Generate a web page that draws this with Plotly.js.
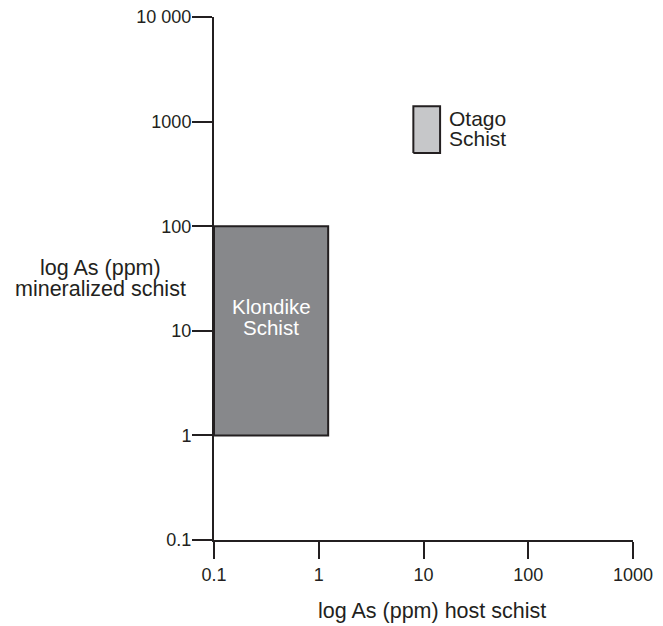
<!DOCTYPE html>
<html>
<head>
<meta charset="utf-8">
<script src="https://cdn.plot.ly/plotly-3.0.1.min.js"></script>
<style>html,body{margin:0;padding:0;background:#fff;}#chart{width:663px;height:626px;}</style>
</head>
<body>
<div id="chart"></div>
<script>
// Data
const boxNames = ["Klondike Schist", "Otago Schist"];
const hostMin = [0.1, 8];       // log As (ppm) host schist, lower bound
const hostMax = [1.23, 14.4];   // upper bound
const minMin = [1, 500];        // log As (ppm) mineralized schist, lower bound
const minMax = [100, 1400];     // upper bound
const boxFill = ["#87888b", "#c6c7c9"];
const xTickVals = [0.1, 1, 10, 100, 1000];
const xTickText = ["0.1", "1", "10", "100", "1000"];
const yTickVals = [0.1, 1, 10, 100, 1000, 10000];
const yTickText = ["0.1", "1", "10", "100", "1000", "10 000"];
const xTitle = "log As (ppm) host schist";
const yTitleLines = ["log As (ppm)", "mineralized schist"];
const klondikeLines = ["Klondike", "Schist"];
const otagoLines = ["Otago", "Schist"];

const ink = "#231f20";
const traces = boxNames.map((n, i) => ({
  type: "scatter", mode: "lines", name: n,
  x: [hostMin[i], hostMax[i], hostMax[i], hostMin[i], hostMin[i]],
  y: [minMin[i], minMin[i], minMax[i], minMax[i], minMin[i]],
  fill: "toself", fillcolor: boxFill[i],
  line: {color: ink, width: 2}, hoverinfo: "skip", cliponaxis: false
}));

const fam = "Liberation Sans, Arial, sans-serif";
const f = (size, color) => ({family: fam, size: size, color: color || ink});
const lg = Math.log10;

const annotations = [
  {xref: "paper", yref: "paper", x: 0.52, y: 0, yshift: -71, xanchor: "center", yanchor: "middle",
   text: xTitle, showarrow: false, font: f(21.5)},
  {xref: "paper", yref: "paper", x: -0.272, y: 0, yshift: 272, xanchor: "center", yanchor: "middle",
   text: yTitleLines[0], showarrow: false, font: f(21.5)},
  {xref: "paper", yref: "paper", x: -0.272, y: 0, yshift: 251, xanchor: "center", yanchor: "middle",
   text: yTitleLines[1], showarrow: false, font: f(21.5)},
  {xref: "x", yref: "y", x: (lg(hostMin[0]) + lg(hostMax[0])) / 2, y: (lg(minMin[0]) + lg(minMax[0])) / 2,
   yshift: 24, xanchor: "center", yanchor: "middle", text: klondikeLines[0], showarrow: false, font: f(20.5, "#ffffff")},
  {xref: "x", yref: "y", x: (lg(hostMin[0]) + lg(hostMax[0])) / 2, y: (lg(minMin[0]) + lg(minMax[0])) / 2,
   yshift: 3, xanchor: "center", yanchor: "middle", text: klondikeLines[1], showarrow: false, font: f(20.5, "#ffffff")},
  {xref: "x", yref: "y", x: lg(hostMax[1]), y: (lg(minMin[1]) + lg(minMax[1])) / 2,
   xshift: 7, yshift: 11, xanchor: "left", yanchor: "middle", text: otagoLines[0], showarrow: false, font: f(21)},
  {xref: "x", yref: "y", x: lg(hostMax[1]), y: (lg(minMin[1]) + lg(minMax[1])) / 2,
   xshift: 7, yshift: -9, xanchor: "left", yanchor: "middle", text: otagoLines[1], showarrow: false, font: f(21)}
];

const layout = {
  width: 663, height: 626,
  margin: {l: 214, r: 30, t: 17, b: 86},
  paper_bgcolor: "#fff", plot_bgcolor: "#fff",
  showlegend: false,
  font: f(18),
  xaxis: {
    type: "log", range: [-1, 3], showgrid: false, zeroline: false,
    showline: true, linecolor: ink, linewidth: 2,
    ticks: "outside", ticklen: 17, tickwidth: 2, tickcolor: ink,
    tickvals: xTickVals, ticktext: xTickText, tickfont: f(18)
  },
  yaxis: {
    type: "log", range: [-1, 4], showgrid: false, zeroline: false,
    showline: true, linecolor: ink, linewidth: 2,
    ticks: "outside", ticklen: 20, tickwidth: 2, tickcolor: ink,
    ticklabelstandoff: -3,
    tickvals: yTickVals, ticktext: yTickText, tickfont: f(18)
  },
  annotations: annotations
};
Plotly.newPlot("chart", traces, layout, {staticPlot: true});
</script>
</body>
</html>
